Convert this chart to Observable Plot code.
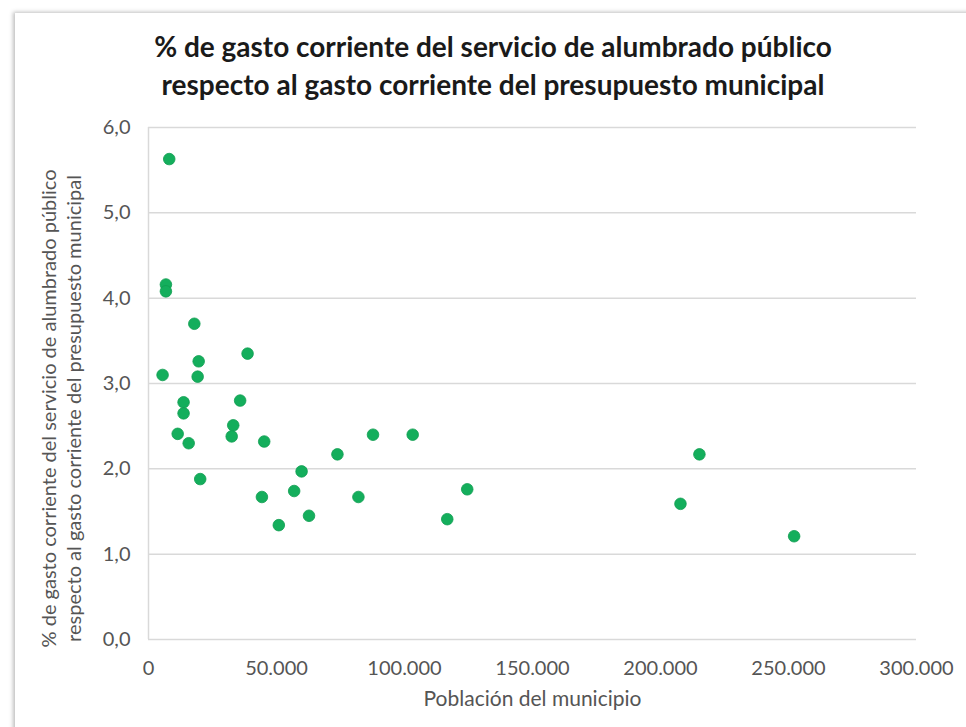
<!DOCTYPE html>
<html lang="es">
<head>
<meta charset="utf-8">
<script src="https://cdn.jsdelivr.net/npm/d3@7"></script>
<script src="https://cdn.jsdelivr.net/npm/@observablehq/plot@0.6"></script>
<style>
  html, body { margin: 0; padding: 0; background: #fff; }
  body { width: 966px; height: 727px; overflow: hidden; position: relative; font-family: Lato, "Open Sans", sans-serif; }
  #card {
    position: absolute; left: 15px; top: 13px; width: 980px; height: 740px;
    background: #fff; box-shadow: -2px -1px 4px rgba(0,0,0,0.25);
  }
  #title {
    position: absolute; left: 15px; top: 27px; width: 956px;
    text-align: center; font-weight: 700; font-size: 28px; line-height: 38px; color: #1a1a1a;
  }
  #chart { position: absolute; left: 0; top: 110px; }
</style>
</head>
<body>
<div id="card"></div>
<div id="title">% de gasto corriente del servicio de alumbrado público<br>respecto al gasto corriente del presupuesto municipal</div>
<div id="chart"></div>
<script>
// Population of each municipality and the share (%) of current spending on street lighting
const poblacion = [
  8100, 6800, 6800, 17900, 38700, 19600, 5500, 19200, 13700, 35800,
  13700, 33100, 11400, 32500, 15700, 45200, 73800, 59800, 20200, 56900,
  44300, 62700, 87700, 103200, 82000, 50900, 116700, 124500, 215200, 207800,
  252200
];
const porcentaje = [
  5.63, 4.16, 4.08, 3.70, 3.35, 3.26, 3.10, 3.08, 2.78, 2.80,
  2.65, 2.51, 2.41, 2.38, 2.30, 2.32, 2.17, 1.97, 1.88, 1.74,
  1.67, 1.45, 2.40, 2.40, 1.67, 1.34, 1.41, 1.76, 2.17, 1.59,
  1.21
];
const xTicks = [0, 50000, 100000, 150000, 200000, 250000, 300000];
const yTicks = [0, 1, 2, 3, 4, 5, 6];
const xTitle = "Población del municipio";
const yTitle = "% de gasto corriente del servicio de alumbrado público\nrespecto al gasto corriente del presupuesto municipal";

const data = poblacion.map((p, i) => ({poblacion: p, porcentaje: porcentaje[i]}));

const es = d3.formatLocale({decimal: ",", thousands: ".", grouping: [3], currency: ["", " €"]});
const fmtX = es.format(",.0f");
const fmtY = es.format(".1f");

const grey = "#555555";

const chart = Plot.plot({
  width: 966,
  height: 617,
  marginTop: 17,
  marginBottom: 88,
  marginLeft: 148,
  marginRight: 50,
  style: {fontFamily: "Lato, 'Open Sans', sans-serif", fontSize: "19px", color: grey, background: "transparent"},
  x: {domain: [0, 300000], ticks: xTicks, tickFormat: fmtX, label: null},
  y: {domain: [0, 6], ticks: yTicks, tickFormat: fmtY, label: null},
  marks: [
    Plot.gridY(yTicks, {stroke: "#d9d9d9", strokeOpacity: 1, strokeWidth: 1.5}),
    Plot.ruleX([0], {stroke: "#d9d9d9", strokeWidth: 1.5}),
    Plot.axisX(xTicks, {tickSize: 0, tickPadding: 21, tickFormat: fmtX, fill: grey, fontSize: 20}),
    Plot.axisY(yTicks, {tickSize: 0, tickPadding: 18, tickFormat: fmtY, fill: grey, fontSize: 20}),
    Plot.dot(data, {x: "poblacion", y: "porcentaje", r: 5.8, fill: "#14ae5c", stroke: "#0f9d50", strokeWidth: 0.8}),
    Plot.text([xTitle], {frameAnchor: "bottom", dy: 66, fill: grey, fontSize: 21}),
    Plot.text([yTitle], {frameAnchor: "left", textAnchor: "middle", dx: -88, dy: 25, rotate: -90, lineHeight: 1.25, fill: grey, fontSize: 20})
  ]
});
document.getElementById("chart").appendChild(chart);
</script>
</body>
</html>
